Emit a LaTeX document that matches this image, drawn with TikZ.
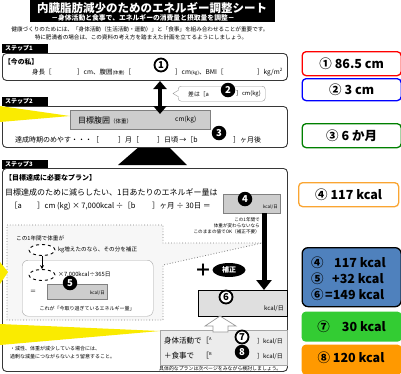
\documentclass[tikz,border=0pt]{standalone}
\usepackage{fontspec}
\setmainfont{Noto Sans CJK JP}
\usetikzlibrary{shapes.geometric,arrows.meta}
\definecolor{bordergray}{RGB}{55,55,55}
\definecolor{boxgray}{RGB}{205,205,205}
\definecolor{ansred}{RGB}{255,0,0}
\definecolor{ansblue}{RGB}{0,0,255}
\definecolor{ansgreen}{RGB}{0,128,0}
\definecolor{ansorange}{RGB}{250,165,50}
\definecolor{fillblue}{RGB}{79,129,189}
\definecolor{fillgreen}{RGB}{51,204,51}
\definecolor{fillorange}{RGB}{255,153,0}
\definecolor{wedgeyellow}{RGB}{250,235,0}
\begin{document}
\begin{tikzpicture}[x=1pt,y=-1pt,
  tx/.style={inner sep=0pt, anchor=west, font=\fontsize{#1}{#1}\selectfont},
  tb/.style={inner sep=0pt, anchor=west, font=\bfseries\fontsize{#1}{#1}\selectfont},
  circo/.style={circle, draw=black, fill=white, line width=1.8pt, minimum size=13pt, inner sep=0pt, font=\bfseries\fontsize{9.5}{9.5}\selectfont},
  circf/.style={circle, fill=black, text=white, minimum size=14.5pt, inner sep=0pt, font=\bfseries\fontsize{9.5}{9.5}\selectfont},
  steplabel/.style={fill=black, inner sep=0pt, minimum width=46pt, minimum height=9pt, anchor=north west},
  stepbox/.style={draw=bordergray, line width=0.9pt, rounded corners=4pt, fill=white, inner sep=0pt, anchor=north west},
  graybox/.style={draw=gray, fill=boxgray, inner sep=0pt, anchor=north west},
  ans/.style={rounded corners=4pt, line width=1.3pt, inner sep=0pt, anchor=north west},
  anstext/.style={inner sep=0pt, font=\bfseries\fontsize{12.5}{12.5}\selectfont},
  bigarrow/.style={line width=4.5pt, draw=black},
]
\useasboundingbox (0,0) rectangle (401,373);
\fill[white] (0,0) rectangle (401,373);

% ---------- title ----------
\node[fill=black, minimum width=245pt, minimum height=22pt, inner sep=0pt, anchor=north west] (titlebar) at (30,0) {};
\node[text=white, font=\bfseries\fontsize{11.5}{11.5}\selectfont, inner sep=0pt] (title) at (152,8) {内臓脂肪減少のためのエネルギー調整シート};
\node[text=white, font=\bfseries\fontsize{6.8}{6.8}\selectfont, inner sep=0pt] (subtitle) at (143,17.5) {－身体活動と食事で、エネルギーの消費量と摂取量を調整－};
\node[font=\fontsize{5.6}{5.6}\selectfont, inner sep=0pt] (intro1) at (140,29) {健康づくりのためには、「身体活動（生活活動・運動）」と「食事」を組み合わせることが重要です。};
\node[font=\fontsize{5.6}{5.6}\selectfont, inner sep=0pt] (intro2) at (141,37) {特に肥満者の場合は、この資料の考え方を踏まえた計画を立てるようにしましょう。};

% ---------- step 1 ----------
\node[steplabel] (lab1) at (2,44) {};
\node[tb=6, text=white] (lab1t) at (5,48.5) {ステップ1};
\node[stepbox, minimum width=285pt, minimum height=27pt] (s1) at (2,53) {};
\node[tb=6.8] (now) at (4,62) {【今の私】};
\node[tx=6.5] (h1) at (32,72) {身長［};
\node[tx=6.5] (h2) at (77,72) {］cm、腹囲{\fontsize{4.5}{4.5}\selectfont (体重)}［};
\node[tx=6.5] (h3) at (175,72) {］cm{\fontsize{4.5}{4.5}\selectfont (kg)}、BMI［};
\node[tx=6.5] (h4) at (257,72) {］kg/m\textsuperscript{2}};
\node[circo] (n1) at (161,65) {1};

% ---------- box 2 (difference) ----------
\node[draw=gray!80, rounded corners=3pt, minimum width=87pt, minimum height=15pt, inner sep=0pt, anchor=north west, fill=white] (d2) at (178,86) {};
\draw[white, line width=1.2pt] (178,91) -- (178,96);
\draw[gray!80] (178,90.5) -- (173,93.5) -- (178,96.5);
\node[tx=5.8] (d2a) at (188,94) {差は［a};
\node[tx=5.8] (d2b) at (236,94) {］cm(kg)};
\node[circf] (n2) at (228,90) {2};

% ---------- step 2 ----------
\fill[black] (118,165) -- (187,165) -- (155,133) -- cycle;
\node[steplabel] (lab2) at (2,96.5) {};
\node[tb=6, text=white] (lab2t) at (5,101) {ステップ2};
\node[stepbox, minimum width=285pt, minimum height=41pt] (s2) at (2,106) {};
\fill[wedgeyellow] (0,106) -- (0,122) -- (70,116) -- cycle;
\node[graybox, minimum width=140pt, minimum height=19pt] (goal) at (70,110) {};
\node[tx=8] (goalt) at (78,120) {目標腹囲{\fontsize{5.5}{5.5}\selectfont（体重）}};
\node[tx=6.5] (goalu) at (175,120) {cm(kg)};
\node[tx=7] (t2a) at (15,140) {達成時期のめやす・・・［};
\node[tx=7] (t2b) at (118,140) {］月［};
\node[tx=7] (t2c) at (157,140) {］日頃\,→［b};
\node[tx=7] (t2d) at (233,140) {］ヶ月後};
\node[circf] (n3) at (219,133) {3};

% double arrow step1 <-> step2
\coordinate (a1top) at (160,81);
\coordinate (a1bot) at (160,114);
\draw[bigarrow, {Triangle[width=13pt,length=8pt]}-{Triangle[width=13pt,length=8pt]}] (a1top) -- (a1bot);

% ---------- step 3 ----------
\node[steplabel] (lab3) at (2,160) {};
\node[tb=6, text=white] (lab3t) at (5,164.5) {ステップ3};
\node[stepbox, minimum width=285pt, minimum height=203pt] (s3) at (2,168) {};
\node[tb=7] (plan) at (5,178) {【目標達成に必要なプラン】};
\node[tx=8] (plan2) at (5,192) {目標達成のために減らしたい、1日あたりのエネルギー量は};
\node[tx=7.5] (p3a) at (10,206) {［a};
\node[tx=7.5] (p3b) at (37,206) {］cm (kg) × 7,000kcal ÷［b};
\node[tx=7.5] (p3c) at (152,206) {］ヶ月 ÷ 30日 ＝};
\node[graybox, minimum width=57pt, minimum height=19pt] (box4) at (223,194) {};
\node[inner sep=0pt, anchor=east, font=\fontsize{4.5}{4.5}\selectfont] (box4u) at (278,207) {kcal/日};
\node[circf] (n4) at (245,199) {4};

% dotted callout region
\path[draw=gray, dotted, line width=0.8pt, fill=gray!6] (7,225) -- (163,225) -- (163,243) -- (262,243) -- (163,265) -- (163,320) -- (7,320) -- cycle;
\node[inner sep=0pt, anchor=north east, align=right, font=\fontsize{4.6}{6.2}\selectfont] (note1) at (260,217) {この1年間で\\体重が変わらないなら\\このままの値でOK（補正不要）};
\node[draw=gray!70, fill=white, rounded corners=6pt, minimum width=131pt, minimum height=56pt, inner sep=0pt, anchor=north west] (inner) at (22,260) {};
\node[tx=5.6] (c1) at (16,238) {この1年間で体重が};
\node[ellipse, draw, dashed, line width=0.9pt, fill=white, minimum width=26pt, minimum height=11pt, inner sep=0pt] (e1) at (42,250) {};
\node[tx=5.6] (c2) at (58,250) {kg増えたのなら、その分を補正};
\node[ellipse, draw, dashed, line width=0.9pt, fill=white, minimum width=26pt, minimum height=11pt, inner sep=0pt] (e2) at (42,275) {};
\draw[-{Stealth[length=4pt,width=4pt]}, line width=0.7pt] (e1.south) -- (e2.north);
\node[tx=5.8] (c3) at (58,275) {×7,000kcal÷365日};
\node[tx=6] (c4) at (30,292) {＝};
\node[graybox, minimum width=60pt, minimum height=15pt] (box5) at (47,284) {};
\node[inner sep=0pt, anchor=east, font=\fontsize{4.5}{4.5}\selectfont] (box5u) at (105,293) {kcal/日};
\node[circf] (n5) at (70,283) {5};
\node[inner sep=0pt, font=\fontsize{5}{5}\selectfont] (c5) at (87,309) {これが「今取り過ぎているエネルギー量」};

% + correction
\node[inner sep=0pt, font=\bfseries\fontsize{17}{17}\selectfont] (plus) at (203,270) {＋};
\node[ellipse, fill=black, text=white, minimum width=33pt, minimum height=14pt, inner sep=0pt, font=\bfseries\fontsize{7}{7}\selectfont] (hosei) at (229,270) {補正};

% box 6
\node[draw=black, line width=1pt, fill=gray!25, minimum width=89pt, minimum height=26pt, inner sep=0pt, anchor=north west] (box6) at (198,290) {};
\node[inner sep=0pt, anchor=east, font=\fontsize{6}{6}\selectfont] (box6u) at (284,309) {kcal/日};
\node[circo] (n6) at (226,297) {6};
\draw[line width=5pt, -{Triangle[width=15pt,length=10pt]}] (box4.south -| 264,0) -- (box6.north -| 264,0);

% box 7/8
\node[draw=gray!70, fill=gray!15, minimum width=127pt, minimum height=35pt, inner sep=0pt, anchor=north west] (box78) at (160,330) {};
\path[draw=gray!80, fill=white, line width=0.7pt] (220,316) -- (236,326) -- (228,326) -- (228,332) -- (213,332) -- (213,326) -- (205,326) -- cycle;
\node[tx=7.5] (b7a) at (164,341) {身体活動で［\textsuperscript{\fontsize{4}{4}\selectfont A}};
\node[tx=6] (b7b) at (257,341) {］kcal/日};
\node[circo] (n7) at (242,337) {7};
\node[tx=7.5] (b8a) at (164,356) {＋食事で　［\textsuperscript{\fontsize{4}{4}\selectfont B}};
\node[tx=6] (b8b) at (257,356) {］kcal/日};
\node[circf] (n8) at (242,352) {8};
\node[tx=4.9] (foot) at (159,368.3) {具体的なプランは次ページをみながら検討しましょう。};

% bottom note and yellow wedges
\fill[wedgeyellow] (0,262) -- (0,284) -- (8,272) -- cycle;
\fill[wedgeyellow] (0,324) -- (0,345) -- (160,331) -- cycle;
\node[tx=5] (w1) at (10,349) {・減性、体重が減少している場合には、};
\node[tx=5] (w2) at (10,357) {過剰な減量につながらないよう留意すること。};

% ---------- answers ----------
\node[ans, draw=ansred, minimum width=99pt, minimum height=24pt] (r1) at (301.5,51) {};
\node[anstext] (r1t) at (r1) {① 86.5 cm};
\node[ans, draw=ansblue, minimum width=99pt, minimum height=22pt] (r2) at (301.5,78) {};
\node[anstext] (r2t) at (r2) {② 3 cm};
\node[ans, draw=ansgreen, minimum width=99pt, minimum height=24pt] (r3) at (301.5,123) {};
\node[anstext] (r3t) at (r3) {③ 6 か月};
\node[ans, draw=ansorange, minimum width=100pt, minimum height=24pt] (r4) at (298,182) {};
\node[anstext] (r4t) at (r4) {④ 117 kcal};
\node[ans, draw=black, fill=fillblue, rounded corners=6pt, minimum width=99pt, minimum height=59pt] (r5) at (301.5,247) {};
\node[tb=12.5] (r5a) at (311,263) {④};
\node[tb=12.5] (r5b) at (334,263) {117 kcal};
\node[tb=12.5] (r5c) at (311,279) {⑤};
\node[tb=12.5] (r5d) at (332,279) {+32 kcal};
\node[tb=12.5] (r5e) at (311,295) {⑥};
\node[tb=12.5] (r5f) at (325,295) {=149 kcal};
\node[ans, fill=fillgreen, draw=none, minimum width=100pt, minimum height=30pt] (r7) at (301,311) {};
\node[anstext] (r7t) at (r7) {⑦\hspace{12pt}30 kcal};
\node[ans, fill=fillorange, draw=none, minimum width=100pt, minimum height=30pt] (r8) at (301,344) {};
\node[anstext] (r8t) at (351,358) {⑧ 120 kcal};
\end{tikzpicture}
\end{document}
